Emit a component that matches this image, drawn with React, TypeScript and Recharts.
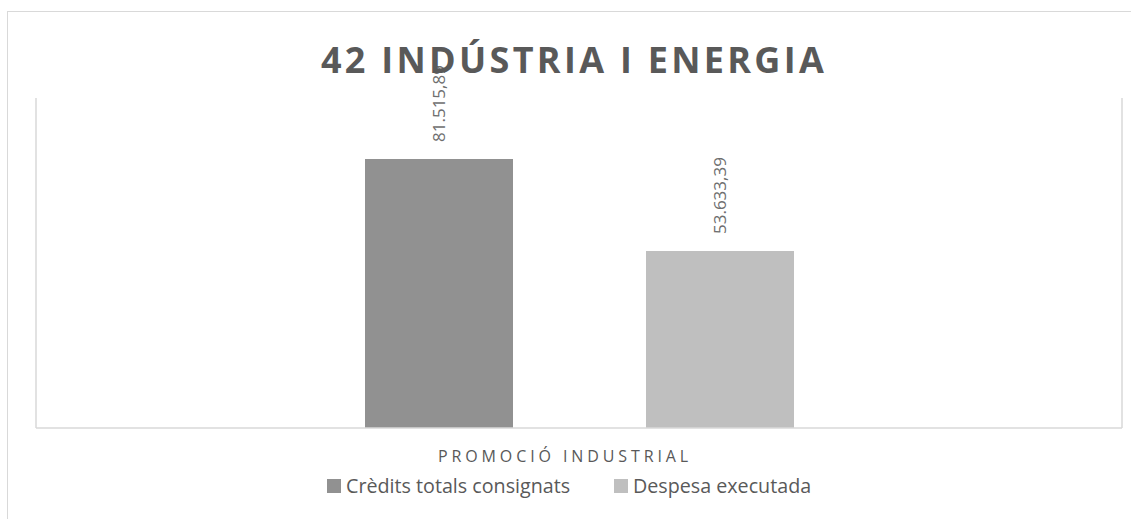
import { BarChart, Bar, XAxis, YAxis, LabelList } from 'recharts';

const categories = ['PROMOCIÓ INDUSTRIAL'];
const creditsValues = [81515.89];
const spentValues = [53633.39];
const seriesNames = ['Crèdits totals consignats', 'Despesa executada'];
const seriesColors = ['#919191', '#bfbfbf'];
const title = '42 INDÚSTRIA I ENERGIA';

const data = categories.map((name, i) => ({
  name,
  credits: creditsValues[i],
  spent: spentValues[i],
}));

const FONT = '"Open Sans", "DejaVu Sans", sans-serif';
const LINE = '#d9d9d9';

// format a la catalana: 81.515,89
function fmt(v: number): string {
  const [int, dec] = v.toFixed(2).split('.');
  return int.replace(/\B(?=(\d{3})+(?!\d))/g, '.') + ',' + dec;
}

function RotatedLabel(props: any) {
  const { x, y, width, value } = props;
  const cx = x + width / 2;
  const cy = y - 17;
  return (
    <text
      x={cx}
      y={cy}
      transform={`rotate(-90 ${cx} ${cy})`}
      textAnchor="start"
      dominantBaseline="central"
      fontFamily={FONT}
      fontSize={17}
      fill="#6e6e6e"
    >
      {fmt(value)}
    </text>
  );
}

function CategoryTick(props: any) {
  const { x, y, payload } = props;
  return (
    <text
      x={x - 14}
      y={y + 26}
      textAnchor="middle"
      fontFamily={FONT}
      fontSize={16}
      letterSpacing={3.9}
      fill="#595959"
    >
      {payload.value}
    </text>
  );
}

export default function App() {
  const legendX = [327, 614];
  return (
    <div
      style={{
        position: 'fixed',
        left: 0,
        top: 0,
        width: 1131,
        height: 519,
        overflow: 'hidden',
        background: '#fff',
      }}
    >
      {/* marc exterior del gràfic (la dreta i la base queden fora de la imatge) */}
      <div
        style={{
          position: 'absolute',
          left: 7,
          top: 11,
          width: 1140,
          height: 540,
          borderTop: `1.5px solid ${LINE}`,
          borderLeft: `1.5px solid ${LINE}`,
        }}
      />
      <div style={{ position: 'absolute', left: 0, top: 0 }}>
        <BarChart
          width={1131}
          height={519}
          data={data}
          margin={{ top: 98, right: 8, left: 35, bottom: 51 }}
          barGap={133}
        >
          <XAxis
            dataKey="name"
            height={40}
            tickLine={false}
            axisLine={{ stroke: LINE, strokeWidth: 1.5 }}
            tick={<CategoryTick />}
          />
          <YAxis
            yAxisId="l"
            domain={[0, 100000]}
            width={1}
            tick={false}
            tickLine={false}
            axisLine={{ stroke: LINE, strokeWidth: 1.5 }}
          />
          <YAxis
            yAxisId="r"
            orientation="right"
            domain={[0, 100000]}
            width={1}
            tick={false}
            tickLine={false}
            axisLine={{ stroke: LINE, strokeWidth: 1.5 }}
          />
          <Bar
            yAxisId="l"
            dataKey="credits"
            name={seriesNames[0]}
            fill={seriesColors[0]}
            barSize={148}
            isAnimationActive={false}
          >
            <LabelList dataKey="credits" content={<RotatedLabel />} />
          </Bar>
          <Bar
            yAxisId="l"
            dataKey="spent"
            name={seriesNames[1]}
            fill={seriesColors[1]}
            barSize={148}
            isAnimationActive={false}
          >
            <LabelList dataKey="spent" content={<RotatedLabel />} />
          </Bar>
        </BarChart>
      </div>
      {/* títol i llegenda, per damunt de les etiquetes */}
      <svg
        width={1131}
        height={519}
        style={{ position: 'absolute', left: 0, top: 0, pointerEvents: 'none' }}
      >
        <text
          x={574}
          y={73}
          textAnchor="middle"
          fontFamily={FONT}
          fontWeight={700}
          fontSize={36}
          letterSpacing={3.3}
          fill="#595959"
        >
          {title}
        </text>
        {seriesNames.map((n, i) => (
          <g key={n}>
            <rect x={legendX[i]} y={479} width={14} height={14} fill={seriesColors[i]} />
            <text
              x={legendX[i] + 19}
              y={493}
              fontFamily={FONT}
              fontSize={19.7}
              fill="#595959"
            >
              {n}
            </text>
          </g>
        ))}
      </svg>
    </div>
  );
}
